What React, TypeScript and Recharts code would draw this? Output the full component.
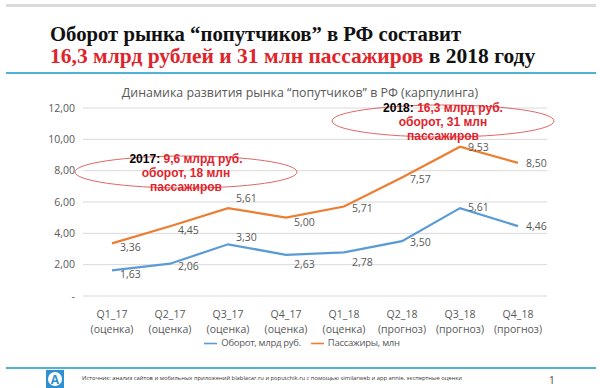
import { LineChart, Line, XAxis, YAxis, CartesianGrid, Legend } from "recharts";

const categories = ["Q1_17", "Q2_17", "Q3_17", "Q4_17", "Q1_18", "Q2_18", "Q3_18", "Q4_18"];
const periodNotes = ["(оценка)", "(оценка)", "(оценка)", "(оценка)", "(оценка)", "(прогноз)", "(прогноз)", "(прогноз)"];
const turnover = [1.63, 2.06, 3.3, 2.63, 2.78, 3.5, 5.61, 4.46];
const passengers = [3.36, 4.45, 5.61, 5.0, 5.71, 7.57, 9.53, 8.5];
const yTicks = [0, 2, 4, 6, 8, 10, 12];

// vertical nudges for the data labels (styling only)
const turnoverLabelDy = [4, 2, -7, 9, 10, 1, -1, 0];
const passengersLabelDy = [4, 4, -10, 4, 1, 2, 0, 0];

const BLUE = "#5B9BD5";
const ORANGE = "#ED7D31";
const RED = "#E0242B";
const GRAY = "#595959";
const CYAN = "#4FB3D6";
const SANS = "'Open Sans', 'Noto Sans', sans-serif";
const SERIF = "'Liberation Serif', 'Times New Roman', serif";

const data = categories.map((c, i) => ({
  name: c,
  note: periodNotes[i],
  turnover: turnover[i],
  passengers: passengers[i],
}));

const fmt = (v: number) => (v === 0 ? "-" : v.toFixed(2).replace(".", ","));

const makeLabel = (offsets: number[]) => (props: any) => {
  const { x, y, value, index } = props;
  return (
    <text
      x={x + 8}
      y={y + offsets[index]}
      dy={4}
      fontSize={10.5}
      fill={GRAY}
      fontFamily={SANS}
      textAnchor="start"
    >
      {fmt(value)}
    </text>
  );
};

const XTick = (props: any) => {
  const { x, y, payload, index } = props;
  return (
    <g transform={`translate(${x},${y})`}>
      <text textAnchor="middle" fontSize={10.5} fill={GRAY} fontFamily={SANS}>
        <tspan x={0} dy={14}>{payload.value}</tspan>
        <tspan x={0} dy={15}>{periodNotes[index]}</tspan>
      </text>
    </g>
  );
};

const Callout = ({ cx, cy, year, lines }: { cx: number; cy: number; year: string; lines: string[] }) => (
  <g fontFamily="'Liberation Sans', Arial, sans-serif" fontWeight={700} fontSize={12} textAnchor="middle">
    <ellipse cx={cx} cy={cy} rx={111} ry={16} fill="none" stroke="#E06666" strokeWidth={1} />
    <text x={cx} y={cy - 9}>
      <tspan fill="#000">{year}</tspan>
      <tspan fill={RED}>{lines[0]}</tspan>
    </text>
    <text x={cx} y={cy + 5} fill={RED}>{lines[1]}</text>
    <text x={cx} y={cy + 19} fill={RED}>{lines[2]}</text>
  </g>
);

export default function App() {
  return (
    <div
      style={{
        position: "fixed",
        top: 0,
        left: 0,
        width: 600,
        height: 388,
        background: "#fff",
        overflow: "hidden",
      }}
    >
      {/* top bar and headline */}
      <div style={{ position: "absolute", top: 4, left: 6, width: 590, height: 3, background: "#d9d9d9" }} />
      <div
        style={{
          position: "absolute",
          top: 24,
          left: 50,
          fontFamily: SERIF,
          fontWeight: 700,
          fontSize: 20.7,
          lineHeight: 1,
          color: "#111",
          whiteSpace: "nowrap",
        }}
      >
        Оборот рынка “попутчиков” в РФ составит
      </div>
      <div
        style={{
          position: "absolute",
          top: 45.5,
          left: 50,
          fontFamily: SERIF,
          fontWeight: 700,
          fontSize: 21.5,
          lineHeight: 1,
          color: "#111",
          whiteSpace: "nowrap",
        }}
      >
        <span style={{ color: RED }}>16,3 млрд рублей и 31 млн пассажиров</span> в 2018 году
      </div>
      <div style={{ position: "absolute", top: 72, left: 6, width: 590, height: 2, background: CYAN }} />

      <div
        style={{
          position: "absolute",
          top: 84,
          left: 0,
          width: 600,
          textAlign: "center",
          fontFamily: SANS,
          fontSize: 12.4,
          color: GRAY,
        }}
      >
        Динамика развития рынка “попутчиков” в РФ (карпулинга)
      </div>

      <div style={{ position: "absolute", top: 0, left: 0 }}>
        <LineChart width={600} height={388} data={data} margin={{ top: 108, right: 53, bottom: 32, left: 43 }}>
          <CartesianGrid vertical={false} stroke="#D9D9D9" />
          <XAxis
            dataKey="name"
            axisLine={false}
            tickLine={false}
            height={40}
            interval={0}
            padding={{ left: 29, right: 29 }}
            tick={<XTick />}
          />
          <YAxis
            domain={[0, 12]}
            ticks={yTicks}
            axisLine={false}
            tickLine={false}
            width={40}
            tickFormatter={fmt}
            tick={{ fontSize: 10.5, fill: GRAY, fontFamily: SANS }}
          />
          <Legend
            verticalAlign="bottom"
            height={20}
            iconType="plainline"
            iconSize={13}
            wrapperStyle={{ fontSize: 9.5, fontFamily: SANS, color: GRAY, paddingLeft: 12 }}
            formatter={(v: string) => <span style={{ color: GRAY, letterSpacing: -0.3 }}>{v}</span>}
          />
          <Line
            dataKey="turnover"
            name="Оборот, млрд руб."
            stroke={BLUE}
            strokeWidth={2.25}
            dot={false}
            isAnimationActive={false}
            label={makeLabel(turnoverLabelDy)}
          />
          <Line
            dataKey="passengers"
            name="Пассажиры, млн"
            stroke={ORANGE}
            strokeWidth={2.25}
            dot={false}
            isAnimationActive={false}
            label={makeLabel(passengersLabelDy)}
          />
        </LineChart>
      </div>

      <svg style={{ position: "absolute", top: 0, left: 0 }} width={600} height={388}>
        <Callout cx={186} cy={172} year="2017: " lines={["9,6 млрд руб.", "оборот, 18 млн", "пассажиров"]} />
        <Callout cx={443} cy={121} year="2018: " lines={["16,3 млрд руб.", "оборот, 31 млн", "пассажиров"]} />
      </svg>

      {/* footer */}
      <div style={{ position: "absolute", top: 367, left: 6, width: 590, height: 2, background: CYAN }} />
      <svg style={{ position: "absolute", top: 370, left: 46 }} width={18} height={18}>
        <rect width={18} height={18} fill="#2F8FD0" />
        <circle cx={9} cy={9} r={7} fill="#fff" />
        <text x={9} y={13.5} textAnchor="middle" fontSize={12} fontWeight={700} fill="#2F8FD0" fontFamily={SANS}>
          A
        </text>
      </svg>
      <div
        style={{
          position: "absolute",
          top: 374,
          left: 82,
          fontFamily: SANS,
          fontSize: 5.8,
          color: "#333",
          whiteSpace: "nowrap",
        }}
      >
        Источник: анализ сайтов и мобильных приложений blablacar.ru и poputchik.ru с помощью similarweb и app annie, экспертные оценки
      </div>
      <div style={{ position: "absolute", top: 373, left: 549, fontFamily: SANS, fontSize: 10, color: "#444" }}>1</div>
    </div>
  );
}
